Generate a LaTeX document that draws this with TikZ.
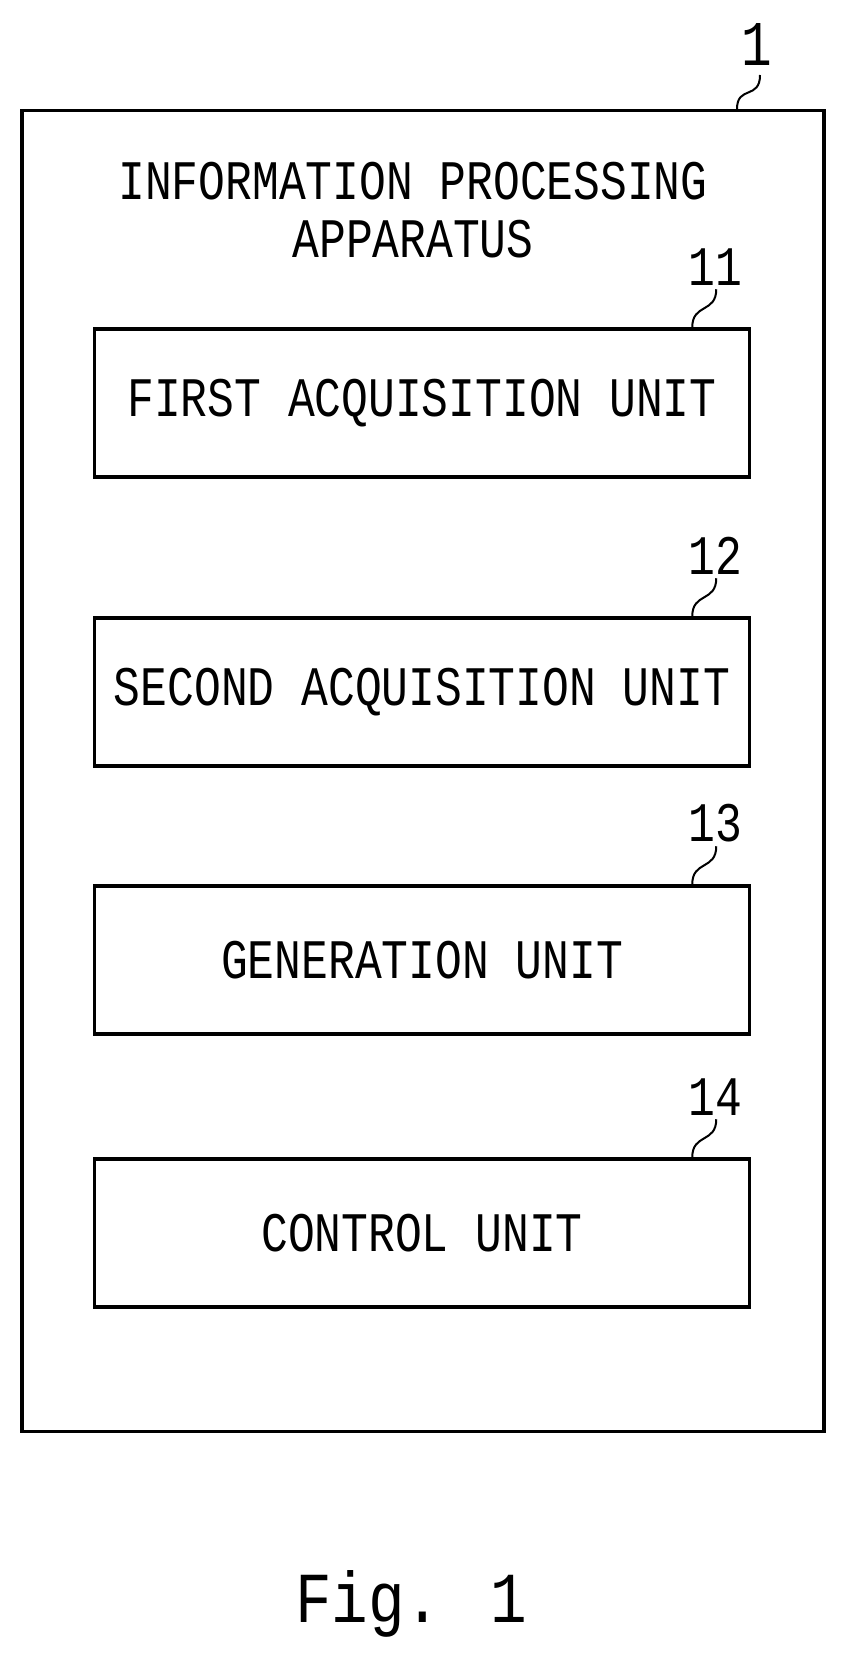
\documentclass[tikz,border=0pt]{standalone}
\usepackage{fontspec}
\setmainfont{Liberation Mono}
\usetikzlibrary{positioning,calc}
\begin{document}
\begin{tikzpicture}[
	x=1bp,y=-1bp,
	unit/.style={draw,line width=3.5bp,minimum width=655bp,minimum height=148bp,inner sep=0pt,font=\fontsize{56}{64}\selectfont},
	num/.style={font=\fontsize{56}{64}\selectfont,inner sep=0pt},
	lead/.style={line width=2bp}
	]
	\newcommand{\nar}[1]{\scalebox{0.8}[1]{#1}}
	\useasboundingbox (0,0) rectangle (847,1663);
	\node[draw,line width=3.5bp,minimum width=802bp,minimum height=1321bp,inner sep=0pt] (app) at (423,771) {};
	\node[num,align=center] (title) at (413,210) {\nar{INFORMATION PROCESSING}\\[-6bp]\nar{APPARATUS}};
	\node[num,font=\fontsize{64}{70}\selectfont] (n1) at (757,45) {\nar{1}};
	\coordinate (a1) at (737,109);
	\draw[lead] (a1) .. controls (737,85) and (760,100) .. (760,75);
	
	\node[unit] (u11) at (422,403) {\nar{FIRST ACQUISITION UNIT}};
	\node[unit] (u12) at (422,692) {\nar{SECOND ACQUISITION UNIT}};
	\node[unit] (u13) at (422,960) {\nar{GENERATION UNIT}};
	\node[unit] (u14) at (422,1233) {\nar{CONTROL UNIT}};
	
	\foreach \u/\t in {u11/11,u12/12,u13/13,u14/14}{
		\node[num,above=42bp of \u.north east,xshift=-36bp] (n\t) {\nar{\t}};
		\coordinate (b\t) at ([xshift=-59bp]\u.north east);
		\draw[lead] (b\t) .. controls ($(b\t)+(0,-24)$) and ($(b\t)+(24,-14)$) .. ($(b\t)+(24,-38)$);
	}
	
	\node[font=\fontsize{72}{80}\selectfont,inner sep=0pt] (fig) at (411,1604) {\scalebox{0.85}[1]{Fig. 1}};
\end{tikzpicture}
\end{document}
